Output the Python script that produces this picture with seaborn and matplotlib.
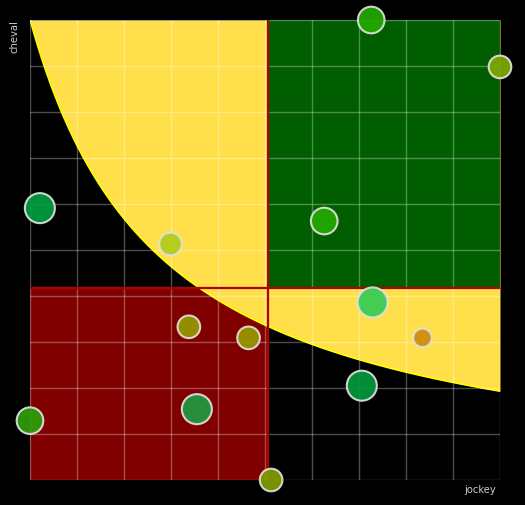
import numpy as np
import pandas as pd
import matplotlib
matplotlib.use("Agg")
import matplotlib.pyplot as plt
import seaborn as sns

# bubble data (0-10 scale on both axes)
jockey = [7.26, 10.0, 0.21, 2.99, 6.26, 7.29, 8.35, 3.38, 4.65, 7.06, 3.55, 0.0, 5.13]
cheval = [10.0, 8.98, 5.91, 5.13, 5.63, 3.86, 3.09, 3.33, 3.09, 2.05, 1.54, 1.29, 0.0]
weight = [3, 2, 4, 2, 3, 4, 1, 2, 2, 4, 4, 3, 2]
colors = ["#22aa00", "#80aa00", "#00a040", "#b0cc1a", "#22aa00", "#33cc55", "#d08a10",
          "#999900", "#999900", "#009a3a", "#1e9a40", "#2ea00a", "#80a000"]

# quadrant split and the yellow zone boundary (x + X0) * (y + Y0) = K
split_x = 5.07
split_y = 4.17
CURVE_K = 28.47
CURVE_X0 = 2.76
CURVE_Y0 = 0.30

df = pd.DataFrame({"jockey": jockey, "cheval": cheval, "weight": weight,
                   "id": [str(i) for i in range(len(jockey))]})

sns.set_style("dark")
fig = plt.figure(figsize=(5.25, 5.05), dpi=100, facecolor="black")
ax = fig.add_axes([30 / 525, 25 / 505, 470 / 525, 460 / 505])
ax.set_facecolor("black")
ax.set_xlim(0, 10)
ax.set_ylim(0, 10)

# red quadrant (bottom-left)
ax.add_patch(plt.Rectangle((0, 0), split_x, split_y, color="#800000", lw=0, zorder=1))

# yellow zone above the curve
xs = np.linspace(0, 10, 400)
curve = CURVE_K / (xs + CURVE_X0) - CURVE_Y0
ax.fill_between(xs, curve, 10, color="#ffe04b", lw=0, zorder=1.1)
ax.plot(xs, curve, color="#ffff00", lw=1.2, zorder=1.3)

# green quadrant (top-right)
ax.add_patch(plt.Rectangle((split_x, split_y), 10 - split_x, 10 - split_y,
                           color="#005e00", lw=0, zorder=1.2))

# grid on top of the fills
for v in range(11):
    ax.axvline(v, color="white", alpha=0.3, lw=1, zorder=2)
    ax.axhline(v, color="white", alpha=0.3, lw=1, zorder=2)

# quadrant borders
ax.axvline(split_x, color="#b00000", lw=1.6, zorder=2.5)
ax.axhline(split_y, color="#b00000", lw=1.6, zorder=2.5)

sns.scatterplot(data=df, x="jockey", y="cheval", hue="id", palette=colors,
                size="weight", sizes={1: 179, 2: 265, 3: 367, 4: 467},
                edgecolor="#e0e0e0", linewidth=1.5, alpha=0.92,
                legend=False, ax=ax, zorder=5, clip_on=False)

for s in ax.spines.values():
    s.set_visible(False)
ax.set_xticks([])
ax.set_yticks([])
ax.set_xlabel("")
ax.set_ylabel("")

fig.text(15 / 525, 1 - 20 / 505, "cheval", rotation=90, ha="center", va="top",
         color="#cccccc", fontsize=7.2)
fig.text(496 / 525, 1 - 490 / 505, "jockey", ha="right", va="center",
         color="#cccccc", fontsize=7.2)

fig.savefig("out.png", dpi=100, facecolor="black")
